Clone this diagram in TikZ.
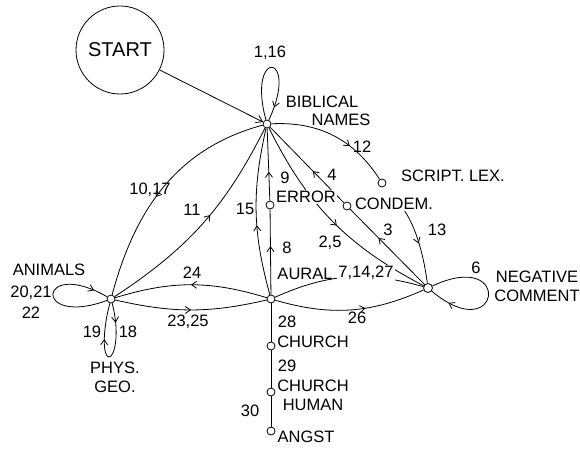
\documentclass[tikz,border=0pt]{standalone}
\usepackage{fontspec}
\setmainfont{Liberation Sans}
\usetikzlibrary{arrows.meta,decorations.markings}
\begin{document}
\begin{tikzpicture}[
  x=1pt, y=1pt,
  line width=0.8pt,
  state/.style={
    draw,
    circle,
    minimum size=8pt,
    inner sep=0pt
  },
  lbl/.style={
    font=\fontsize{16.5}{19}\selectfont,
    inner sep=1pt,
    align=center
  },
  blank/.style={fill=white},
  tipat/.style={
    postaction={decorate,
      decoration={markings,
        mark=at position #1 with {\arrow{Straight Barb[length=5pt,width=7pt]}}}}
  }
]
  \useasboundingbox (0,0) rectangle (580,-449);

  \node[draw,circle,minimum size=88pt,font=\fontsize{20}{24}\selectfont] (start) at (120,-50) {START};
  \node[state] (bib) at (267,-124) {};
  \node[state] (scr) at (382,-183) {};
  \node[state] (err) at (270,-205) {};
  \node[state] (con) at (347,-206) {};
  \node[state] (ani) at (111,-299) {};
  \node[state] (aur) at (271,-299) {};
  \node[state,minimum size=9pt] (neg) at (428,-288) {};
  \node[state] (chu) at (271,-346) {};
  \node[state] (chh) at (271,-392) {};
  \node[state] (ang) at (271,-431) {};
  \coordinate (pg) at (109,-357);

  \draw[-{Straight Barb[length=6pt,width=8pt]}] (start) -- (bib);
  \draw[tipat=0.88] (bib) to[out=105,in=65,distance=75pt] (bib);
  \draw[tipat=0.88] (ani) to[out=200,in=150,distance=80pt] (ani);
  \draw[tipat=0.85] (neg) to[out=25,in=-40,distance=90pt] (neg);

  \draw[tipat=0.55] (bib) to[out=195,in=75] (ani);
  \draw[tipat=0.55] (ani) to[bend right=15] (bib);
  \draw[tipat=0.42] (aur) to[bend left=14] (bib);
  \draw[tipat=0.4] (err) -- (bib);
  \draw[tipat=0.57] (aur) -- (err);
  \draw[tipat=0.65] (bib) to[bend left=30] (scr);
  \draw[tipat=0.42] (con) -- (bib);
  \draw[tipat=0.53] (bib) to[bend right=18] (neg);
  \draw[tipat=0.62,shorten <=24pt] (scr) to[bend left=16] (neg);
  \draw[tipat=0.62] (neg) -- (con);

  \draw[tipat=0.56] (neg) to[bend right=20] (aur);
  \draw[tipat=0.6] (aur) to[bend right=20] (neg);
  \draw[tipat=0.5] (aur) to[bend right=17] (ani);
  \draw[tipat=0.5] (ani) to[bend right=13] (aur);

  \draw[tipat=0.35] (ani) to[out=-75,in=0,out distance=30pt,in distance=6pt] (pg);
  \draw[tipat=0.35] (pg) to[out=180,in=-105,out distance=6pt,in distance=30pt] (ani);

  \draw (aur) -- (chu);
  \draw (chu) -- (chh);
  \draw (chh) -- (ang);

  \node[lbl] (l116) at (270,-53) {1,16};
  \node[lbl] (lbib) at (322,-102) {BIBLICAL};
  \node[lbl] (lnames) at (341,-120) {NAMES};
  \node[lbl] (l12) at (362,-147) {12};
  \node[lbl] (lscr) at (453,-176) {SCRIPT. LEX.};
  \node[lbl,blank] (lerr) at (306,-197) {ERROR};
  \node[lbl,blank] (lcon) at (394,-204) {CONDEM.};
  \node[lbl] (l4) at (332,-175) {4};
  \node[lbl] (l9) at (285,-178) {9};
  \node[lbl] (l1017) at (150,-190) {10,17};
  \node[lbl] (l11) at (192,-210) {11};
  \node[lbl] (l15) at (245,-209) {15};
  \node[lbl] (l3) at (388,-230) {3};
  \node[lbl] (l13) at (437,-230) {13};
  \node[lbl] (l25) at (330,-243) {2,5};
  \node[lbl] (l8) at (287,-248) {8};
  \node[lbl] (laur) at (305,-274) {AURAL};
  \node[lbl,blank] (l71427) at (366,-273) {7,14,27};
  \node[lbl] (l6) at (476,-268) {6};
  \node[lbl] (lneg) at (537,-286) {NEGATIVE\\COMMENT};
  \node[lbl] (lani) at (49,-270) {ANIMALS};
  \node[lbl] (l2022) at (31,-302) {20,21\\[2pt]22};
  \node[lbl] (l24) at (192,-273) {24};
  \node[lbl] (l2325) at (188,-322) {23,25};
  \node[lbl] (l26) at (357,-318) {26};
  \node[lbl] (l19) at (92,-332) {19};
  \node[lbl] (l18) at (128,-332) {18};
  \node[lbl] (lpg) at (115,-377) {PHYS.\\GEO.};
  \node[lbl] (l28) at (287,-322) {28};
  \node[lbl] (lchu) at (313,-342) {CHURCH};
  \node[lbl] (l29) at (287,-366) {29};
  \node[lbl] (lchh) at (313,-395) {CHURCH\\HUMAN};
  \node[lbl] (l30) at (250,-411) {30};
  \node[lbl] (lang) at (306,-437) {ANGST};
\end{tikzpicture}
\end{document}
